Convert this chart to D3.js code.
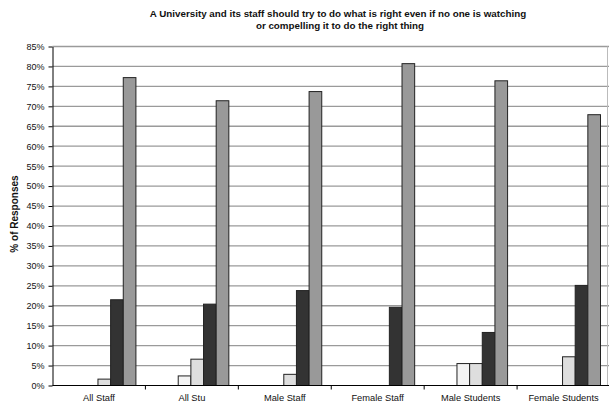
<!DOCTYPE html>
<html><head><meta charset="utf-8">
<script src="https://cdn.jsdelivr.net/npm/d3@7"></script>
<style>html,body{margin:0;padding:0;background:#fff;} svg{display:block;font-family:"Liberation Sans",Arial,sans-serif;}</style>
</head><body>
<svg id="c" width="609" height="406"></svg>
<script>
const categories = ["All Staff","All Stu","Male Staff","Female Staff","Male Students","Female Students"];
const seriesNames = ["Strongly Disagree","Disagree","Neutral","Somewhat Agree","Agree","Strongly Agree"];
const s1 = [0,0,0,0,0,0];
const s2 = [0,0,0,0,0,0];
const s3 = [0,2.4,0,0,5.5,0];
const s4 = [1.6,6.6,2.8,0,5.5,7.2];
const s5 = [21.5,20.4,23.8,19.6,13.3,25.1];
const s6 = [77.2,71.4,73.7,80.7,76.4,67.9];
const yTicks = [0,5,10,15,20,25,30,35,40,45,50,55,60,65,70,75,80,85];
const seriesValues = [s1,s2,s3,s4,s5,s6];
const colors = ["#ffffff","#ffffff","#f4f4f4","#dedede","#333333","#999999"];

(function(){
const svg = d3.select("#c");
const mL = 52.5, mR = 610, mT = 46.5, mB = 385.5;
const x = d3.scaleBand().domain(categories).range([mL,mR]).padding(0);
const xs = d3.scaleBand().domain(d3.range(seriesValues.length)).range([7.5, x.bandwidth()-9.5]).padding(0);
const y = d3.scaleLinear().domain([0,85]).range([mB, mT]);

// gridlines
svg.append("g").selectAll("line").data(yTicks.filter(d=>d>0)).join("line")
  .attr("x1",mL).attr("x2",mR).attr("y1",d=>y(d)).attr("y2",d=>y(d))
  .attr("stroke","#9a9a9a").attr("stroke-width",1.3);
svg.append("line").attr("x1",607.5).attr("x2",607.5).attr("y1",mT).attr("y2",mB)
  .attr("stroke","#bbbbbb").attr("stroke-width",1);

// bars
const rows = [];
categories.forEach((c,i)=>seriesValues.forEach((s,j)=>{ if(s[i]>0) rows.push({c,j,v:s[i]}); }));
svg.append("g").selectAll("rect").data(rows).join("rect")
  .attr("x",d=>x(d.c)+xs(d.j)).attr("width",xs.bandwidth())
  .attr("y",d=>y(d.v)).attr("height",d=>mB-y(d.v))
  .attr("fill",d=>colors[d.j]).attr("stroke","#222").attr("stroke-width",1);

// y axis
const yAxis = svg.append("g").attr("transform",`translate(${mL},0)`)
  .call(d3.axisLeft(y).tickValues(yTicks).tickFormat(d=>d+"%").tickSize(4).tickSizeOuter(0));
yAxis.select(".domain").attr("stroke","#000");
yAxis.selectAll(".tick line").attr("stroke","#000");
yAxis.selectAll("text").attr("font-size","9px").attr("fill","#111").attr("x",-8)
  .attr("font-family","Liberation Sans, Arial, sans-serif");

// x axis
const xAxis = svg.append("g").attr("transform",`translate(0,${mB})`);
xAxis.append("line").attr("x1",mL).attr("x2",mR).attr("stroke","#000");
xAxis.selectAll("line.t").data(categories.slice(1)).join("line").attr("class","t")
  .attr("x1",d=>x(d)).attr("x2",d=>x(d)).attr("y1",0).attr("y2",4).attr("stroke","#000");
xAxis.selectAll("text").data(categories).join("text")
  .attr("x",d=>x(d)+x.bandwidth()/2).attr("y",15.5).attr("text-anchor","middle")
  .attr("font-size","9.3px").attr("fill","#111").text(d=>d);

// title
const title = svg.append("text").attr("text-anchor","middle").attr("font-weight","bold")
  .attr("font-size","9.8px").attr("fill","#111");
title.append("tspan").attr("x",338).attr("y",16.5).text("A University and its staff should try to do what is right even if no one is watching");
title.append("tspan").attr("x",340).attr("y",28.5).text("or compelling it to do the right thing");

// y title
svg.append("text").attr("transform",`translate(17.5,214) rotate(-90)`)
  .attr("text-anchor","middle").attr("font-weight","bold").attr("font-size","10px").attr("fill","#111")
  .text("% of Responses");
})();
</script>
</body></html>
